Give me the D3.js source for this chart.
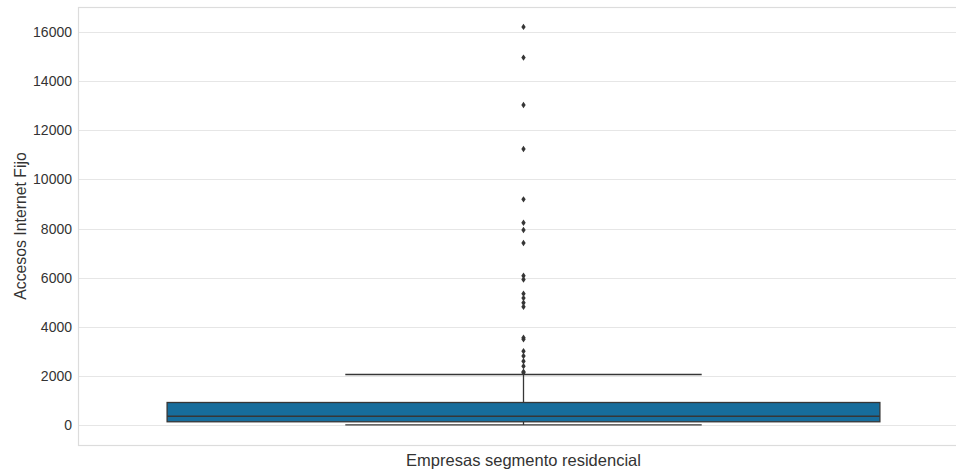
<!DOCTYPE html>
<html>
<head>
<meta charset="utf-8">
<script src="https://cdn.jsdelivr.net/npm/d3@7"></script>
<style>
  body { margin: 0; background: #fff; }
  svg { display: block; font-family: "Liberation Sans", Arial, sans-serif; }
</style>
</head>
<body>
<svg id="chart" width="956" height="469"></svg>
<script>
// categoría del eje x
const categories = ["Empresas segmento residencial"];

// estadísticos de la caja
const whiskerLow = [5];
const q1 = [135];
const median = [360];
const q3 = [920];
const whiskerHigh = [2060];

// valores atípicos
const outliers = [
  16210, 14960, 13030, 11240, 9190, 8240, 7940, 7410,
  6080, 5930, 5350, 5170, 4980, 4820,
  3555, 3490, 3010, 2810, 2600, 2400, 2170, 2130
];

const yTicks = [0, 2000, 4000, 6000, 8000, 10000, 12000, 14000, 16000];
const yLabel = "Accesos Internet Fijo";

// márgenes (el borde derecho del eje queda fuera de la imagen)
const margin = {top: 7, right: -13, bottom: 24, left: 78};
const svg = d3.select("#chart");
const width = 956, height = 469;

const lo = 0, hi = d3.max(outliers);
const pad = (hi - lo) * 0.05;

const x = d3.scaleBand()
  .domain(categories)
  .range([margin.left, width - margin.right])
  .paddingInner(0).paddingOuter(0);

const y = d3.scaleLinear()
  .domain([lo - pad, hi + pad])
  .range([height - margin.bottom, margin.top]);

// rejilla horizontal
svg.append("g")
  .attr("class", "y-grid")
  .selectAll("line")
  .data(yTicks)
  .enter()
  .append("line")
  .attr("x1", margin.left)
  .attr("x2", width - margin.right)
  .attr("y1", d => Math.round(y(d)) + 0.5)
  .attr("y2", d => Math.round(y(d)) + 0.5)
  .attr("stroke", "#e6e6e6")
  .attr("stroke-width", 1.2);

// bordes del área
svg.append("rect")
  .attr("x", margin.left + 0.5)
  .attr("y", margin.top + 0.5)
  .attr("width", width - margin.right - margin.left)
  .attr("height", height - margin.bottom - margin.top)
  .attr("fill", "none")
  .attr("stroke", "#dcdcdc")
  .attr("stroke-width", 1.2);

// eje y
const yAxis = svg.append("g")
  .attr("transform", `translate(${margin.left},0)`)
  .call(d3.axisLeft(y).tickValues(yTicks).tickSize(0).tickPadding(6).tickFormat(d3.format("d")));
yAxis.select(".domain").remove();
yAxis.selectAll("text")
  .attr("font-size", 14)
  .attr("font-family", "Liberation Sans, Arial, sans-serif")
  .attr("fill", "#333");

// eje x
const xAxis = svg.append("g")
  .attr("transform", `translate(0,${height - margin.bottom})`)
  .call(d3.axisBottom(x).tickSize(0).tickFormat(""));
xAxis.select(".domain").remove();

svg.append("text")
  .attr("x", x(categories[0]) + x.bandwidth() / 2)
  .attr("y", 466)
  .attr("text-anchor", "middle")
  .attr("font-size", 16.5)
  .attr("fill", "#333")
  .text(categories[0]);

svg.append("text")
  .attr("transform", `translate(26,${(margin.top + height - margin.bottom) / 2}) rotate(-90)`)
  .attr("text-anchor", "middle")
  .attr("font-size", 15.8)
  .attr("fill", "#333")
  .text(yLabel);

// caja
const lineColor = "#363636";
const boxColor = "#176d9c";
const bw = x.bandwidth();

const boxes = svg.append("g").selectAll("g")
  .data(categories)
  .enter()
  .append("g");

boxes.each(function(c, i) {
  const g = d3.select(this);
  const cx = x(c) + bw / 2;
  const boxW = bw * 0.8;
  const capW = boxW / 2;

  // bigotes
  g.append("line")
    .attr("x1", cx).attr("x2", cx)
    .attr("y1", y(q3[i])).attr("y2", y(whiskerHigh[i]))
    .attr("stroke", lineColor).attr("stroke-width", 1.3);
  g.append("line")
    .attr("x1", cx).attr("x2", cx)
    .attr("y1", y(q1[i])).attr("y2", y(whiskerLow[i]))
    .attr("stroke", lineColor).attr("stroke-width", 1.3);
  g.append("line")
    .attr("x1", cx - capW / 2).attr("x2", cx + capW / 2)
    .attr("y1", y(whiskerHigh[i])).attr("y2", y(whiskerHigh[i]))
    .attr("stroke", lineColor).attr("stroke-width", 1.3);
  g.append("line")
    .attr("x1", cx - capW / 2).attr("x2", cx + capW / 2)
    .attr("y1", y(whiskerLow[i])).attr("y2", y(whiskerLow[i]))
    .attr("stroke", lineColor).attr("stroke-width", 1.3);

  // caja
  g.append("rect")
    .attr("x", cx - boxW / 2)
    .attr("y", y(q3[i]))
    .attr("width", boxW)
    .attr("height", y(q1[i]) - y(q3[i]))
    .attr("fill", boxColor)
    .attr("stroke", lineColor)
    .attr("stroke-width", 1.3);

  // mediana
  g.append("line")
    .attr("x1", cx - boxW / 2).attr("x2", cx + boxW / 2)
    .attr("y1", y(median[i])).attr("y2", y(median[i]))
    .attr("stroke", lineColor).attr("stroke-width", 1.5);

  // atípicos (rombos finos)
  g.selectAll("path.flier")
    .data(outliers)
    .enter()
    .append("path")
    .attr("class", "flier")
    .attr("d", d => {
      const py = y(d);
      return `M${cx},${py - 3.2}L${cx + 2.2},${py}L${cx},${py + 3.2}L${cx - 2.2},${py}Z`;
    })
    .attr("fill", lineColor);
});
</script>
</body>
</html>
